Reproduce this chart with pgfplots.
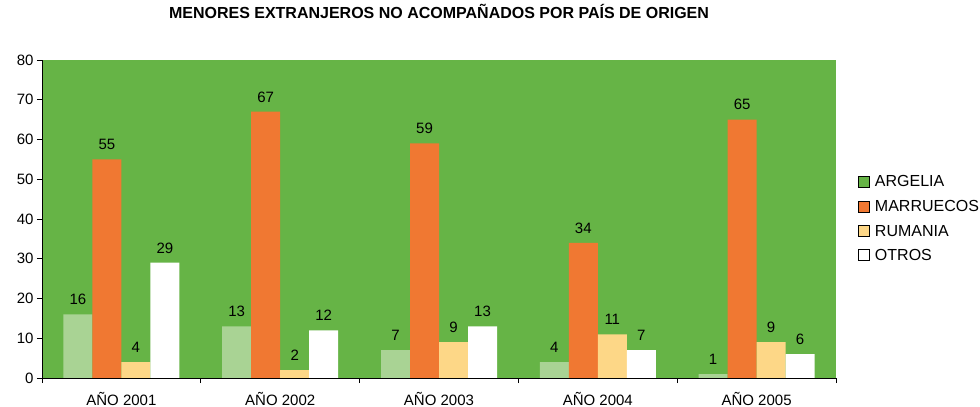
\documentclass[border=0pt]{standalone}
\usepackage{pgfplots}
\pgfplotsset{compat=1.18}
\usepackage{fontspec}
\setmainfont{Liberation Sans}
\definecolor{bggreen}{RGB}{102,180,70}
\definecolor{argelia}{RGB}{169,211,148}
\definecolor{marru}{RGB}{240,120,50}
\definecolor{ruma}{RGB}{253,215,135}
\newcommand\fs{\fontsize{15bp}{17bp}\selectfont}
\newcommand\fl{\fontsize{16bp}{18bp}\selectfont}
\begin{document}
\begin{tikzpicture}
\useasboundingbox (-42bp,-29bp) rectangle (938bp,378bp);
\begin{axis}[
  scale only axis, width=794bp, height=318bp,
  xmin=-0.5, xmax=4.5, ymin=0, ymax=80,
  axis background/.style={fill=bggreen},
  axis x line*=bottom, axis y line*=left,
  axis line style={black, line width=0.8pt, -},
  /pgf/number format/assume math mode=true,
  ytick={0,10,...,80},
  xtick={0,1,2,3,4},
  xticklabels={AÑO 2001,AÑO 2002,AÑO 2003,AÑO 2004,AÑO 2005},
  major x tick style={draw=none},
  minor xtick={-0.5,0.5,1.5,2.5,3.5,4.5},
  tick align=outside,
  tick style={black, line width=0.8pt},
  major tick length=5bp, minor tick length=5bp,
  ticklabel style={font=\fs},
  x tick label style={inner sep=0pt, yshift=-9bp},
  ybar, bar width=29bp,
  nodes near coords,
  nodes near coords style={font=\fs, anchor=south, yshift=6bp, black},
  title={\bfseries MENORES EXTRANJEROS NO ACOMPAÑADOS POR PAÍS DE ORIGEN},
  title style={font=\fl, at={(0.5,1)}, anchor=center, yshift=43bp},
  legend style={at={(1,0.5)}, anchor=west, xshift=22bp, draw=none, fill=none,
    font=\fl, row sep=8bp, inner sep=0pt},
  legend cell align=left,
  legend image code/.code={\path[#1] (0bp,-5bp) rectangle (11bp,6bp); \path (14bp,0bp);},
]
\addplot[fill=argelia, draw=none, bar shift=-43.5bp, forget plot] coordinates {(0,16) (1,13) (2,7) (3,4) (4,1)};
\addplot[fill=marru, draw=none, bar shift=-14.5bp, forget plot] coordinates {(0,55) (1,67) (2,59) (3,34) (4,65)};
\addplot[fill=ruma, draw=none, bar shift=14.5bp, forget plot] coordinates {(0,4) (1,2) (2,9) (3,11) (4,9)};
\addplot[fill=white, draw=none, bar shift=43.5bp, forget plot] coordinates {(0,29) (1,12) (2,13) (3,7) (4,6)};
\addlegendimage{fill=bggreen}
\addlegendentry{ARGELIA}
\addlegendimage{fill=marru}
\addlegendentry{MARRUECOS}
\addlegendimage{fill=ruma}
\addlegendentry{RUMANIA}
\addlegendimage{fill=white, draw=black, line width=0.8pt}
\addlegendentry{OTROS}
\end{axis}
\end{tikzpicture}
\end{document}
